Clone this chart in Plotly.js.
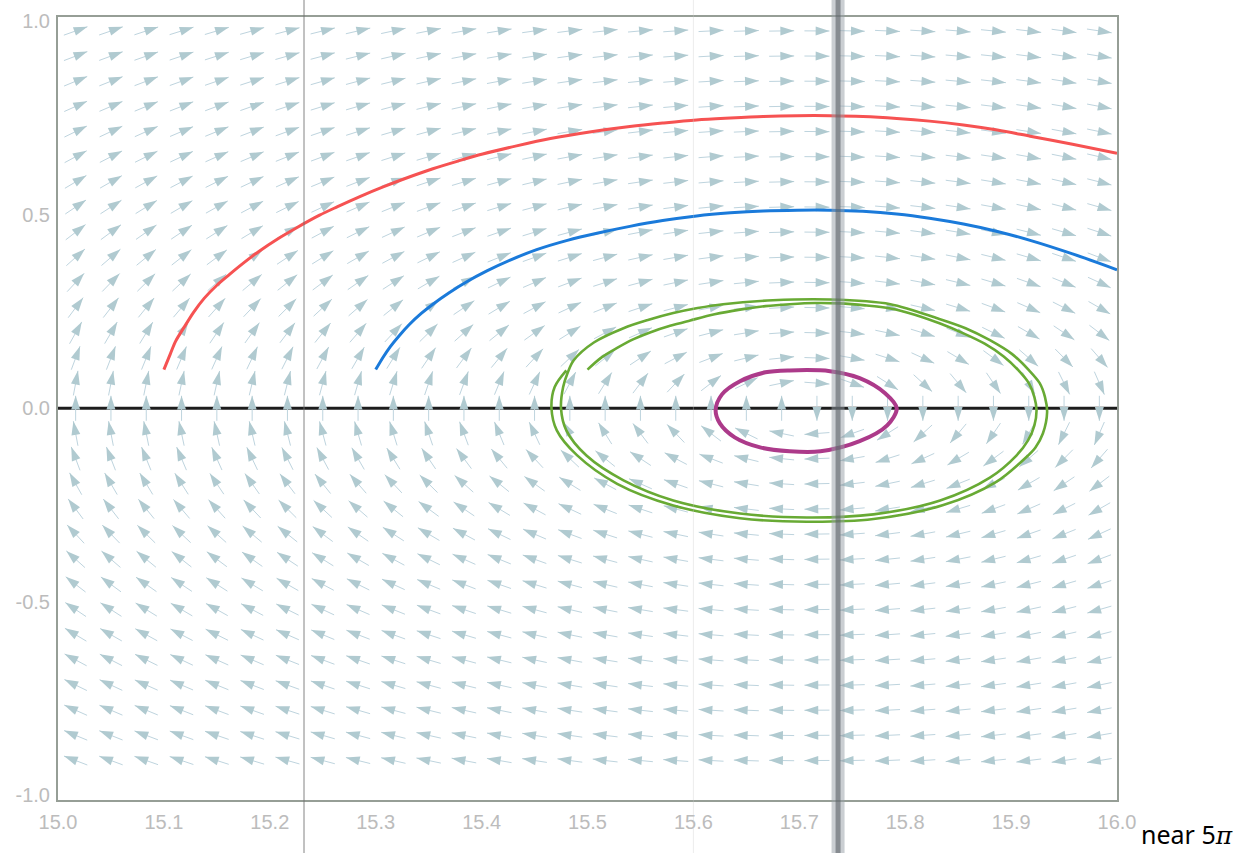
<!DOCTYPE html>
<html>
<head>
<meta charset="utf-8">
<script src="https://cdn.plot.ly/plotly-3.0.1.min.js"></script>
<style>
  html, body { margin: 0; padding: 0; background: #ffffff; }
  #plot { width: 1246px; height: 853px; }
</style>
</head>
<body>
<div id="plot"></div>
<script>
// ---- trajectories in the phase plane (x, x') near 5π ----
const redX = [15.100, 15.106, 15.111, 15.119, 15.128, 15.138, 15.150, 15.162, 15.175, 15.190, 15.207, 15.225, 15.247, 15.264, 15.285, 15.307, 15.331, 15.354, 15.378, 15.401, 15.433, 15.465, 15.502, 15.540, 15.571, 15.603, 15.635, 15.666, 15.698, 15.729, 15.760, 15.792, 15.823, 15.855, 15.887, 15.918, 15.958, 16.000];
const redY = [0.100, 0.140, 0.173, 0.209, 0.248, 0.284, 0.318, 0.346, 0.375, 0.406, 0.437, 0.466, 0.499, 0.521, 0.547, 0.572, 0.597, 0.619, 0.639, 0.657, 0.678, 0.697, 0.714, 0.728, 0.737, 0.745, 0.750, 0.754, 0.756, 0.756, 0.754, 0.749, 0.742, 0.732, 0.719, 0.703, 0.682, 0.659];

const blueX = [15.300, 15.307, 15.314, 15.322, 15.332, 15.343, 15.354, 15.369, 15.386, 15.405, 15.427, 15.452, 15.481, 15.510, 15.540, 15.571, 15.603, 15.635, 15.666, 15.698, 15.729, 15.760, 15.792, 15.823, 15.855, 15.887, 15.918, 15.958, 16.000];
const blueY = [0.100, 0.132, 0.160, 0.187, 0.217, 0.245, 0.269, 0.298, 0.327, 0.355, 0.383, 0.410, 0.434, 0.453, 0.470, 0.485, 0.497, 0.505, 0.510, 0.512, 0.512, 0.509, 0.502, 0.491, 0.476, 0.457, 0.434, 0.399, 0.358];

// two turns of a slowly widening orbit
const greenX = [15.500, 15.513, 15.528, 15.543, 15.559, 15.578, 15.597, 15.620, 15.644, 15.668, 15.691, 15.715, 15.738, 15.762, 15.786, 15.809, 15.833, 15.854, 15.875, 15.893, 15.907, 15.917, 15.922, 15.924, 15.922, 15.916, 15.905, 15.880, 15.833, 15.770, 15.707, 15.644, 15.581, 15.534, 15.499, 15.480, 15.475, 15.477, 15.481, 15.487, 15.506, 15.534,
                15.557, 15.581, 15.604, 15.628, 15.675, 15.729, 15.786, 15.831, 15.857, 15.880, 15.901, 15.917, 15.927, 15.932, 15.934, 15.930, 15.923, 15.914, 15.886, 15.836, 15.770, 15.707, 15.644, 15.581, 15.528, 15.490, 15.471, 15.466, 15.469, 15.480];
const greenY = [0.100, 0.131, 0.156, 0.178, 0.196, 0.213, 0.227, 0.243, 0.255, 0.264, 0.269, 0.272, 0.271, 0.266, 0.258, 0.242, 0.219, 0.195, 0.167, 0.134, 0.098, 0.064, 0.029, -0.005, -0.044, -0.083, -0.122, -0.179, -0.238, -0.274, -0.282, -0.272, -0.238, -0.186, -0.122, -0.057, 0.000, 0.055, 0.090, 0.124, 0.170, 0.207,
                0.228, 0.246, 0.259, 0.269, 0.279, 0.281, 0.269, 0.232, 0.207, 0.176, 0.140, 0.098, 0.065, 0.029, -0.010, -0.065, -0.101, -0.127, -0.190, -0.250, -0.286, -0.293, -0.284, -0.251, -0.195, -0.121, -0.057, 0.000, 0.055, 0.098];

const purpleX = [15.691, 15.729, 15.757, 15.781, 15.792, 15.783, 15.757, 15.720, 15.691, 15.663, 15.639, 15.625, 15.621, 15.627, 15.644, 15.668, 15.691];
const purpleY = [0.098, 0.096, 0.078, 0.039, 0.000, -0.044, -0.085, -0.111, -0.111, -0.101, -0.075, -0.039, -0.005, 0.036, 0.070, 0.093, 0.098];

// ---- axis ticks ----
const xTickVals = [15.0, 15.1, 15.2, 15.3, 15.4, 15.5, 15.6, 15.7, 15.8, 15.9, 16.0];
const xTickText = ['15.0', '15.1', '15.2', '15.3', '15.4', '15.5', '15.6', '15.7', '15.8', '15.9', '16.0'];
const yTickVals = [1.0, 0.5, 0.0, -0.5, -1.0];
const yTickText = ['1.0', '0.5', '0.0', '-0.5', '-1.0'];

// ---- direction field of x'' = K sin x ----
const K = 1.5;
const fieldCols = 30;             // sample columns across [15, 16]
const fieldRowMin = -14, fieldRowMax = 15;
const fieldRowStep = 0.065;

// ---- page geometry ----
const W = 1246, H = 853;
const M = { l: 58, r: 129, t: 17, b: 53 };
const XR = [15.0, 16.0];
const YR = [-1.012, 1.011];
const SX = (W - M.l - M.r) / (XR[1] - XR[0]);   // px per x unit
const SY = (H - M.t - M.b) / (YR[1] - YR[0]);   // px per y unit
const HALF = 12.5;                               // half arrow length, px

const tailX = [], tailY = [], headX = [], headY = [], headAng = [];
for (let i = 0; i < fieldCols; i++) {
  const x = XR[0] + (i + 0.5) / fieldCols;
  for (let j = fieldRowMin; j <= fieldRowMax; j++) {
    const y = j * fieldRowStep;
    const vx = y, vy = K * Math.sin(x);
    const px = vx * SX, py = vy * SY;
    const n = Math.hypot(px, py) || 1;
    const ux = px / n, uy = py / n;
    const tx = x + ux * HALF / SX, ty = y + uy * HALF / SY;
    const bx = x - ux * HALF / SX, by = y - uy * HALF / SY;
    tailX.push(bx, tx, null);
    tailY.push(by, ty, null);
    headX.push(tx);
    headY.push(ty);
    headAng.push(Math.atan2(ux, uy) * 180 / Math.PI);
  }
}

const smooth = { shape: 'spline', smoothing: 0.9 };
const traces = [
  { x: [XR[0], XR[1]], y: [0, 0], mode: 'lines', line: { color: '#1c1c1c', width: 3 }, hoverinfo: 'skip' },
  { x: tailX, y: tailY, mode: 'lines', line: { color: 'rgb(190,212,222)', width: 1 }, hoverinfo: 'skip' },
  { x: headX, y: headY, mode: 'markers', hoverinfo: 'skip',
    marker: { symbol: 'arrow', size: 14.5, angle: headAng, color: 'rgb(176,202,208)', line: { width: 0 } } },
  { x: greenX, y: greenY, mode: 'lines', line: Object.assign({ color: 'rgb(104,170,52)', width: 2.6 }, smooth) },
  { x: purpleX, y: purpleY, mode: 'lines', line: Object.assign({ color: 'rgb(172,58,138)', width: 4 }, smooth) },
  { x: blueX, y: blueY, mode: 'lines', line: Object.assign({ color: 'rgb(26,122,218)', width: 3 }, smooth) },
  { x: redX, y: redY, mode: 'lines', line: Object.assign({ color: 'rgb(246,82,82)', width: 3 }, smooth) }
];

const tickFont = { family: 'Liberation Sans, Arial, sans-serif', size: 20, color: 'rgb(188,188,188)' };
const px2paperY = p => (H - M.b - p) / (H - M.t - M.b);

const layout = {
  width: W, height: H,
  margin: { l: M.l, r: M.r, t: M.t, b: M.b, pad: 0 },
  paper_bgcolor: '#ffffff', plot_bgcolor: '#ffffff',
  showlegend: false,
  xaxis: {
    range: XR, showgrid: false, zeroline: false,
    showline: true, mirror: true, linecolor: 'rgb(150,158,150)', linewidth: 2,
    ticks: '', tickvals: xTickVals, ticktext: xTickText, tickfont: tickFont, ticklabelstandoff: 3
  },
  yaxis: {
    range: YR, showgrid: false, zeroline: false,
    showline: true, mirror: true, linecolor: 'rgb(150,158,150)', linewidth: 2,
    ticks: '', tickvals: yTickVals, ticktext: yTickText, tickfont: tickFont, ticklabelstandoff: 2
  },
  shapes: [
    // creases across the sheet
    { type: 'line', xref: 'paper', yref: 'paper', x0: 15.2323 - XR[0], x1: 15.2323 - XR[0], y0: px2paperY(H), y1: px2paperY(0),
      line: { color: 'rgba(110,110,110,0.85)', width: 1 } },
    { type: 'line', xref: 'paper', yref: 'paper', x0: 15.600 - XR[0], x1: 15.600 - XR[0], y0: px2paperY(H), y1: px2paperY(0),
      line: { color: 'rgba(200,200,200,0.35)', width: 1 } },
    { type: 'line', xref: 'paper', yref: 'paper', x0: 15.7366 - XR[0], x1: 15.7366 - XR[0], y0: px2paperY(H), y1: px2paperY(0),
      line: { color: 'rgba(150,158,165,0.5)', width: 13 } },
    { type: 'line', xref: 'paper', yref: 'paper', x0: 15.7366 - XR[0], x1: 15.7366 - XR[0], y0: px2paperY(H), y1: px2paperY(0),
      line: { color: 'rgba(90,96,102,0.6)', width: 5 } }
  ],
  annotations: [
    { xref: 'paper', yref: 'paper', x: (1139 - M.l) / (W - M.l - M.r), y: px2paperY(834),
      xanchor: 'left', yanchor: 'middle', showarrow: false,
      text: 'near 5<span style="font-family:\'DejaVu Serif\', serif;font-style:italic">π</span>',
      font: { family: 'Noto Sans, sans-serif', size: 25, color: '#000000' } }
  ]
};

Plotly.newPlot('plot', traces, layout, { staticPlot: true, displayModeBar: false });
</script>
</body>
</html>
